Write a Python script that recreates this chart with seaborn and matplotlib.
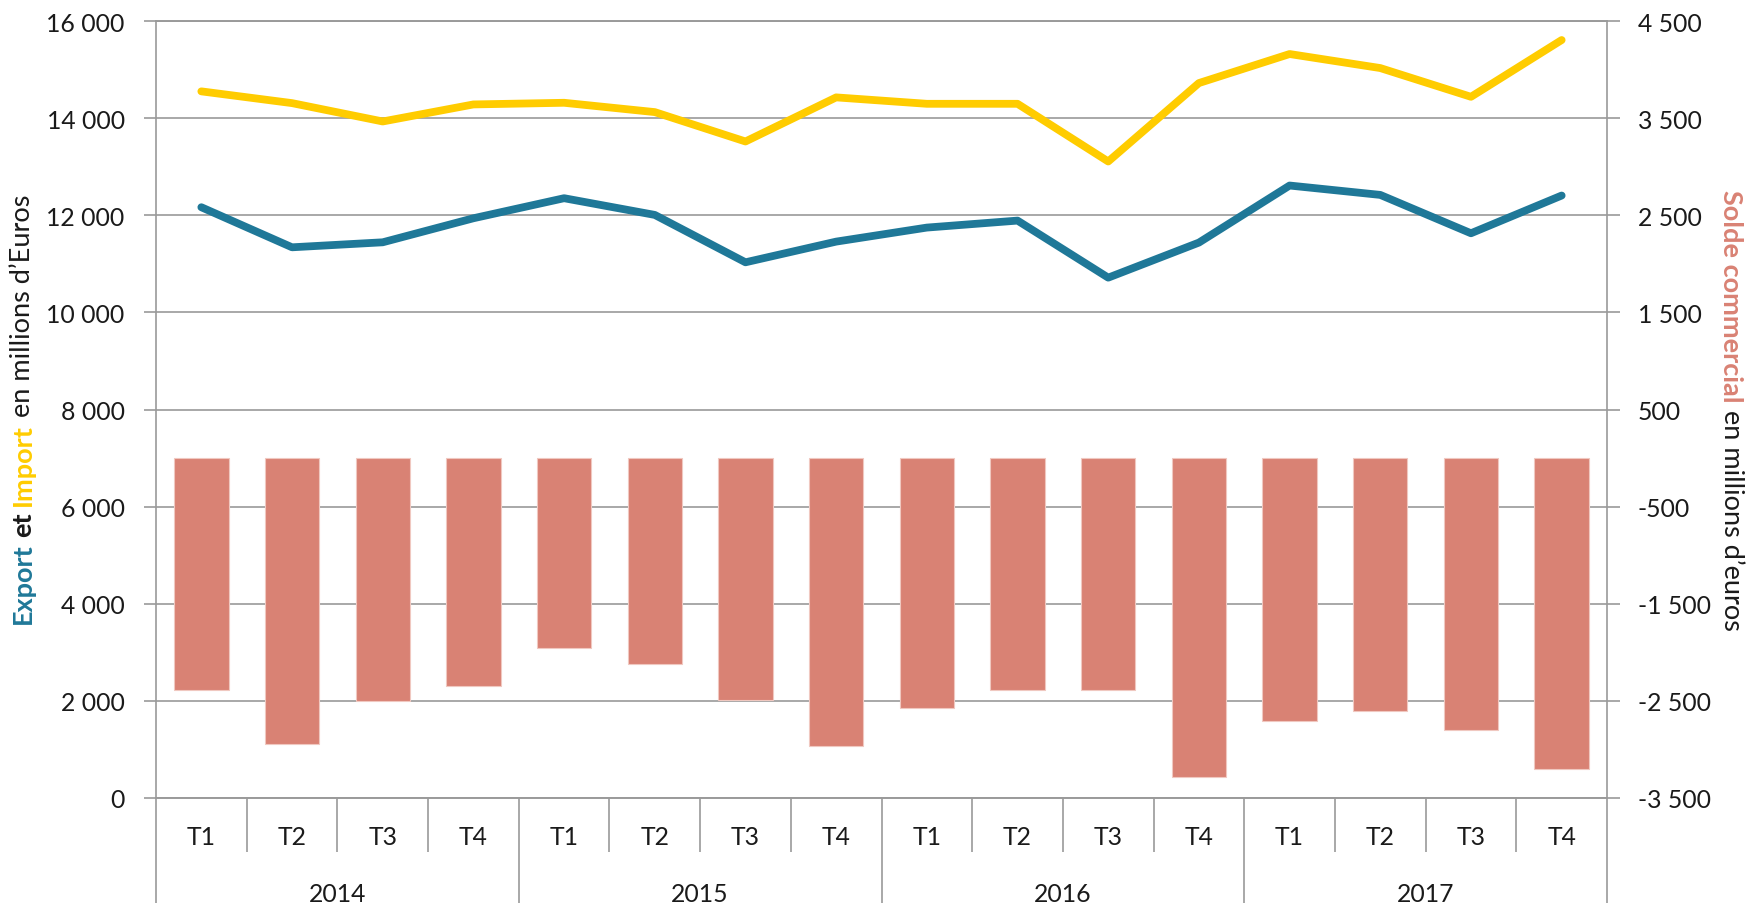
import numpy as np
import pandas as pd
import matplotlib
matplotlib.use("Agg")
import matplotlib.pyplot as plt
import seaborn as sns
from matplotlib.transforms import IdentityTransform, blended_transform_factory

# ---- data ----
years = ["2014", "2015", "2016", "2017"]
quarters = ["T1", "T2", "T3", "T4"]
export_vals = [12165, 11340, 11443, 11938, 12351, 12007, 11031, 11457,
               11746, 11890, 10715, 11437, 12612, 12419, 11629, 12406]
import_vals = [14551, 14309, 13931, 14282, 14316, 14124, 13519, 14427,
               14295, 14295, 13107, 14722, 15320, 15031, 14439, 15608]
solde_vals = [-2384, -2943, -2497, -2348, -1957, -2116, -2487, -2967,
              -2572, -2387, -2384, -3287, -2703, -2606, -2802, -3204]
left_ticks = [0, 2000, 4000, 6000, 8000, 10000, 12000, 14000, 16000]
right_ticks = [-3500, -2500, -1500, -500, 500, 1500, 2500, 3500, 4500]

BLUE = "#1F7898"
YELLOW = "#FFCC00"
BAR = "#D98274"
GRID = "#9A9A9A"
TXT = "#1a1a1a"
TICK_SIZE = 17.8
TITLE_SIZE = 19.5

sns.set_theme(style="white")
plt.rcParams["font.family"] = ["Lato", "DejaVu Sans"]

periods = [f"{y} {q}" for y in years for q in quarters]
df = pd.DataFrame({
    "periode": periods,
    "pos": np.arange(len(periods)),
    "Export": export_vals,
    "Import": import_vals,
    "Solde": solde_vals,
})

W, H = 1746, 904
fig = plt.figure(figsize=(W / 100, H / 100), dpi=100)
x0, x1, y0, y1 = 156, 1607, 22, 799
ax = fig.add_axes([x0 / W, 1 - y1 / H, (x1 - x0) / W, (y1 - y0) / H])
ax2 = ax.twinx()

# bars (right scale)
sns.barplot(data=df, x="periode", y="Solde", order=periods, color=BAR,
            saturation=1, width=0.6, ax=ax2, edgecolor="#F0C8C0", linewidth=0.8)
# lines (left scale)
sns.lineplot(data=df, x="pos", y="Import", ax=ax, color=YELLOW, lw=5.6,
             solid_capstyle="round", solid_joinstyle="round", legend=False)
sns.lineplot(data=df, x="pos", y="Export", ax=ax, color=BLUE, lw=5.6,
             solid_capstyle="round", solid_joinstyle="round", legend=False)

ax.set_xlim(-0.5, len(periods) - 0.5)
ax.set_ylim(left_ticks[0], left_ticks[-1])
ax2.set_ylim(right_ticks[0], right_ticks[-1])
for a in (ax, ax2):
    a.set_xlabel("")
    a.set_ylabel("")
    a.tick_params(axis="x", bottom=False, labelbottom=False, top=False)

fmt = lambda v: f"{v:,}".replace(",", " ")
ax.set_yticks(left_ticks)
ax.set_yticklabels([fmt(v) for v in left_ticks])
ax2.set_yticks(right_ticks)
ax2.set_yticklabels([fmt(v) for v in right_ticks])
ax.tick_params(axis="y", length=9, width=1.2, color=GRID, pad=13.5,
               labelsize=TICK_SIZE, labelcolor=TXT, left=True)
ax2.tick_params(axis="y", length=9, width=1.2, color=GRID, pad=13,
                labelsize=TICK_SIZE, labelcolor=TXT, right=True)

ax.yaxis.grid(True, color=GRID, lw=1.2)
ax.xaxis.grid(False)
ax2.grid(False)
ax.set_axisbelow(True)

for a in (ax, ax2):
    for s in a.spines.values():
        s.set_color(GRID)
        s.set_linewidth(1.2)
ax2.spines["left"].set_visible(False)
ax.spines["right"].set_visible(False)

# extend the outer axis lines down through the category area
ext = -(H - y1 + 5) / (y1 - y0)
for xa in (0, 1):
    ax.plot([xa, xa], [0, ext], transform=ax.transAxes, color=GRID, lw=1.2,
            clip_on=False, solid_capstyle="butt")

# category (two-level) axis
trans = blended_transform_factory(ax.transData, ax.transAxes)
short = -(853 - y1) / (y1 - y0)
t_base = -(845 - y1) / (y1 - y0)
y_base = -(902 - y1) / (y1 - y0)
n = len(periods)
for k in range(1, n):
    yb = ext if k % len(quarters) == 0 else short
    ax.plot([k - 0.5, k - 0.5], [0, yb], transform=trans, color=GRID, lw=1.2,
            clip_on=False, solid_capstyle="butt")
for i, p in enumerate(periods):
    ax.text(i, t_base, quarters[i % len(quarters)], transform=trans,
            ha="center", va="baseline", fontsize=TICK_SIZE, color=TXT)
for j, yname in enumerate(years):
    xc = j * len(quarters) + (len(quarters) - 1) / 2
    ax.text(xc, y_base, yname, transform=trans, ha="center", va="baseline",
            fontsize=TICK_SIZE, color=TXT)

# multi-coloured rotated axis titles
renderer = fig.canvas.get_renderer()


def rotated_title(xc, yc, pieces, rotation, size=TITLE_SIZE):
    items = []
    total = 0.0
    for idx, (s, weight, col) in enumerate(pieces):
        t = fig.text(0, 0, s, rotation=rotation, transform=IdentityTransform(),
                     ha="center", va="center", fontsize=size,
                     fontweight=weight, color=col)
        h = t.get_window_extent(renderer).height
        a = fig.text(0, 0, "xx", fontsize=size, fontweight=weight)
        b = fig.text(0, 0, "x x", fontsize=size, fontweight=weight)
        gap = b.get_window_extent(renderer).width - a.get_window_extent(renderer).width
        a.remove(); b.remove()
        g = gap if idx < len(pieces) - 1 else 0.0
        items.append((t, h, g))
        total += h + g
    if rotation == 90:
        y = yc - total / 2
        for t, h, g in items:
            t.set_position((xc, y + h / 2))
            y += h + g
    else:
        y = yc + total / 2
        for t, h, g in items:
            t.set_position((xc, y - h / 2))
            y -= h + g


rotated_title(23, H - 409.5, [("Export", "bold", BLUE), ("et", "bold", TXT),
                              ("Import", "bold", YELLOW),
                              ("en millions d\u2019Euros", "normal", TXT)], 90)
rotated_title(1731, H - 410.5, [("Solde commercial", "bold", BAR),
                                ("en millions d\u2019euros", "normal", TXT)], 270)

fig.savefig("out.png", dpi=100)
